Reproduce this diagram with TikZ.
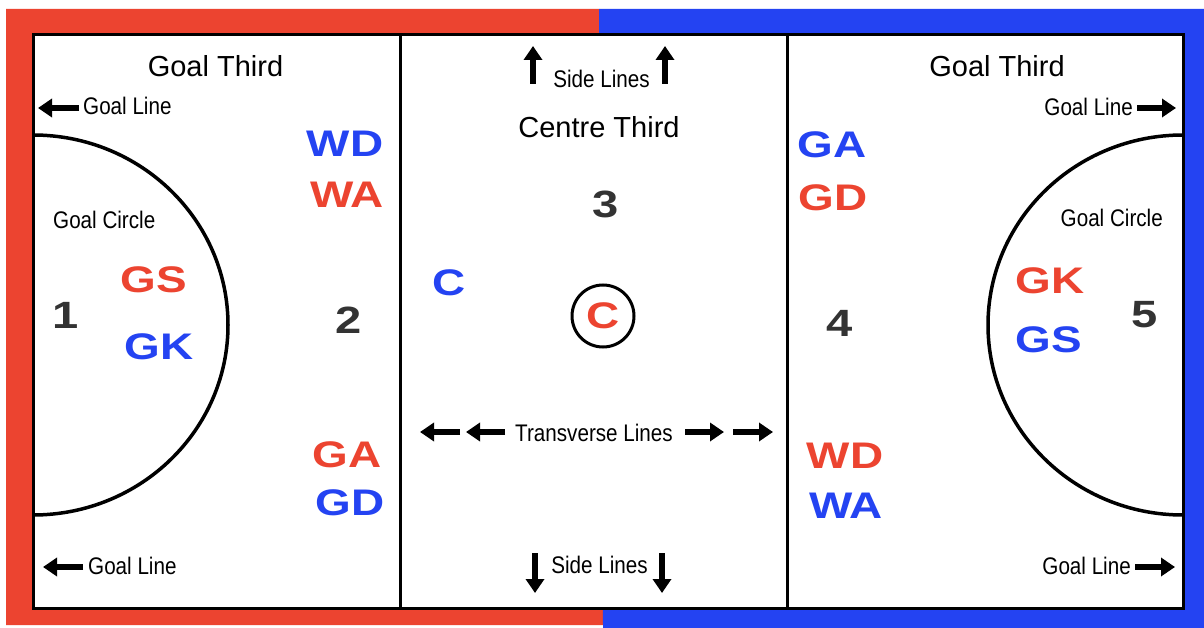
\documentclass[tikz,border=0pt]{standalone}
\usepackage{fontspec}
\setmainfont{Liberation Sans}
\usetikzlibrary{arrows.meta}
\definecolor{teamred}{HTML}{EC4430}
\definecolor{teamblue}{HTML}{2443F2}
\definecolor{numgray}{HTML}{333333}
\newcommand{\widetext}[1]{\scalebox{1.24}[1]{#1}}
\newcommand{\narrowtext}[1]{\scalebox{0.86}[1]{#1}}
\tikzset{
  posn/.style={font=\bfseries\fontsize{37}{37}\selectfont, inner sep=0pt, anchor=base},
  redp/.style={posn, text=teamred},
  bluep/.style={posn, text=teamblue},
  numl/.style={font=\bfseries\fontsize{38}{38}\selectfont, inner sep=0pt, anchor=base, text=numgray},
  smalll/.style={font=\fontsize{24}{24}\selectfont, inner sep=0pt, anchor=base},
  titlel/.style={font=\fontsize{29}{29}\selectfont, inner sep=0pt, anchor=base},
  arr/.style={line width=6pt, -{Triangle[length=14pt,width=18pt]}},
  courtline/.style={line width=3pt, black},
}
\begin{document}
\begin{tikzpicture}[x=1pt,y=-1pt]
\useasboundingbox (0,0) rectangle (1204,628);
\fill[white] (0,0) rectangle (1204,628);
% coloured surround
\fill[teamred] (6,9) -- (599,9) -- (603,625) -- (6,625) -- cycle;
\fill[teamblue] (599,9) -- (1204,9) -- (1204,628) -- (603,628) -- (603,625) -- cycle;
% court
\fill[white] (33,35) rectangle (1183,608);
\begin{scope}
  \clip (33,35) rectangle (1183,608);
  \draw[line width=3.5pt] (33,325) ellipse[x radius=195, y radius=190];
  \draw[line width=3.5pt] (1183,325) ellipse[x radius=195, y radius=190];
\end{scope}
\draw[courtline] (33,35) rectangle (1183,608);
\draw[courtline] (400,35) -- (400,608);
\draw[courtline] (787,35) -- (787,608);
% centre circle
\node[circle, draw, line width=3pt, minimum size=62pt, inner sep=0pt] (cc) at (603,316) {};

% titles
\node[titlel] (gtl) at (215.5,77) {Goal Third};
\node[titlel] (gtr) at (997,77) {Goal Third};
\node[titlel] (ct) at (599,138) {Centre Third};

% goal lines
\node[smalll, anchor=base west] (gl1) at (83,115) {\narrowtext{Goal Line}};
\node[smalll, anchor=base west] (gl2) at (88,574) {\narrowtext{Goal Line}};
\node[smalll, anchor=base east] (gl3) at (1133,116) {\narrowtext{Goal Line}};
\node[smalll, anchor=base east] (gl4) at (1131,574) {\narrowtext{Goal Line}};
\coordinate (a1s) at (79,108); \coordinate (a1e) at (38,108);
\coordinate (a2s) at (83,567); \coordinate (a2e) at (43,567);
\coordinate (a3s) at (1137,108); \coordinate (a3e) at (1176,108);
\coordinate (a4s) at (1135,567); \coordinate (a4e) at (1175,567);
\draw[arr] (a1s) -- (a1e);
\draw[arr] (a2s) -- (a2e);
\draw[arr] (a3s) -- (a3e);
\draw[arr] (a4s) -- (a4e);

% goal circles
\node[smalll, anchor=base west] (gc1) at (53,229) {\narrowtext{Goal Circle}};
\node[smalll, anchor=base east] (gc2) at (1163,227) {\narrowtext{Goal Circle}};

% side lines
\node[smalll, anchor=base] (sl1) at (601.5,88) {\narrowtext{Side Lines}};
\node[smalll, anchor=base] (sl2) at (599.5,573) {\narrowtext{Side Lines}};
\coordinate (s1s) at (533,84); \coordinate (s1e) at (533,46);
\coordinate (s2s) at (665,84); \coordinate (s2e) at (665,46);
\coordinate (s3s) at (535,553); \coordinate (s3e) at (535,593);
\coordinate (s4s) at (662,553); \coordinate (s4e) at (662,593);
\draw[arr] (s1s) -- (s1e);
\draw[arr] (s2s) -- (s2e);
\draw[arr] (s3s) -- (s3e);
\draw[arr] (s4s) -- (s4e);

% transverse lines
\node[smalll, anchor=base] (tl) at (594,441) {\narrowtext{Transverse Lines}};
\coordinate (t1s) at (460,432); \coordinate (t1e) at (420,432);
\coordinate (t2s) at (505,432); \coordinate (t2e) at (466,432);
\coordinate (t3s) at (685,432); \coordinate (t3e) at (724,432);
\coordinate (t4s) at (733,432); \coordinate (t4e) at (773,432);
\draw[arr] (t1s) -- (t1e);
\draw[arr] (t2s) -- (t2e);
\draw[arr] (t3s) -- (t3e);
\draw[arr] (t4s) -- (t4e);

% numbers
\node[numl] (n1) at (66,328) {\widetext{1}};
\node[numl] (n2) at (349,333) {\widetext{2}};
\node[numl] (n3) at (606,218) {\widetext{3}};
\node[numl] (n4) at (840,336) {\widetext{4}};
\node[numl] (n5) at (1145,327) {\widetext{5}};

% left third
\node[bluep] (wdl) at (345,157) {\widetext{WD}};
\node[redp]  (wal) at (347,208) {\widetext{WA}};
\node[redp]  (gal) at (347,467) {\widetext{GA}};
\node[bluep] (gdl) at (350,515) {\widetext{GD}};
\node[redp]  (gsl) at (154,292) {\widetext{GS}};
\node[bluep] (gkl) at (159,359) {\widetext{GK}};

% centre third
\node[bluep] (cb) at (449,295) {\widetext{C}};
\node[redp]  (cr) at (cc.center) [anchor=center] {\widetext{C}};

% right third
\node[bluep] (gar) at (832,158) {\widetext{GA}};
\node[redp]  (gdr) at (833,211) {\widetext{GD}};
\node[redp]  (wdr) at (845,468) {\widetext{WD}};
\node[bluep] (war) at (846,518) {\widetext{WA}};
\node[redp]  (gkr) at (1050,293) {\widetext{GK}};
\node[bluep] (gsr) at (1049,352) {\widetext{GS}};
\end{tikzpicture}
\end{document}
